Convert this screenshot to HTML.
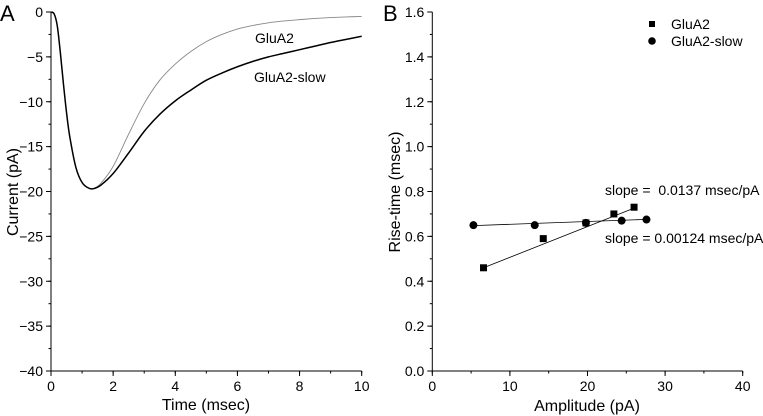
<!DOCTYPE html>
<html><head><meta charset="utf-8"><style>
body{margin:0;background:#fff}
svg{display:block;font-family:"Liberation Sans",Arial,sans-serif}
</style></head><body>
<svg id="c" width="763" height="416" viewBox="0 0 763 416"></svg>
<script>
const tA=[0,0.1,0.2,0.3,0.4,0.5,0.6,0.8,1.0,1.2,1.35,1.6,2.0,2.5,3.0,3.5,4.0,4.5,5.0,5.5,6.0,6.5,7.0,7.5,8.0,8.5,9.0,9.5,10];
const glua2Trace=[0,-0.2,-1.5,-4.5,-8,-11.2,-13.8,-17.3,-19.0,-19.6,-19.7,-19.1,-17.2,-13.6,-10.2,-7.6,-5.8,-4.4,-3.3,-2.5,-1.9,-1.5,-1.2,-1.0,-0.85,-0.72,-0.62,-0.55,-0.5];
const slowTrace=[0,-0.2,-1.5,-4.5,-8,-11.2,-13.8,-17.3,-19.0,-19.6,-19.7,-19.3,-18.0,-15.7,-13.3,-11.4,-9.9,-8.7,-7.6,-6.8,-6.1,-5.5,-5.0,-4.6,-4.2,-3.8,-3.4,-3.05,-2.7];
const xTicksA=[0,2,4,6,8,10];
const yTicksA=[0,-5,-10,-15,-20,-25,-30,-35,-40];
const sqAmp=[6.6,14.3,19.8,23.4,26.0];
const sqRise=[0.46,0.59,0.66,0.70,0.73];
const ciAmp=[5.3,13.2,19.8,24.4,27.6];
const ciRise=[0.65,0.65,0.66,0.67,0.675];
const sqSlope=0.0137, ciSlope=0.00124;
const xTicksB=[0,10,20,30,40];
const yTicksB=[0.0,0.2,0.4,0.6,0.8,1.0,1.2,1.4,1.6];

const svg=document.getElementById('c');
const NS='http://www.w3.org/2000/svg';
function el(tag,attrs,parent){const e=document.createElementNS(NS,tag);for(const k in attrs)e.setAttribute(k,attrs[k]);(parent||svg).appendChild(e);return e;}
function txt(s,attrs,parent){const e=el('text',attrs,parent);e.textContent=s;return e;}

const axA=x=>51+(x/10)*(361.7-51);
const ayA=y=>12+(-y/40)*(371-12);
const axB=x=>432.3+(x/40)*(742.7-432.3);
const ayB=y=>371-(y/1.6)*(371-12);

function axes(g,x0,x1,y0,y1,xt,xs,yt,ys,xMinor,yMinor,fmtY){
  el('line',{x1:x0,y1:y1,x2:x0,y2:y0,stroke:'#000','stroke-width':1},g);
  el('line',{x1:x0,y1:y1,x2:x1,y2:y1,stroke:'#000','stroke-width':1},g);
  xMinor.forEach(v=>{el('line',{x1:xs(v),x2:xs(v),y1:y1,y2:y1+2.5,stroke:'#000'},g);});
  yMinor.forEach(v=>{el('line',{x1:x0,x2:x0-2.5,y1:ys(v),y2:ys(v),stroke:'#000'},g);});
  xt.forEach(v=>{el('line',{x1:xs(v),x2:xs(v),y1:y1,y2:y1+5,stroke:'#000'},g);
    const t=txt(String(v),{x:xs(v),y:y1+20,'text-anchor':'middle','font-size':14},g);
    });
  yt.forEach(v=>{el('line',{x1:x0,x2:x0-5,y1:ys(v),y2:ys(v),stroke:'#000'},g);
    const t=txt(fmtY(v),{x:x0-8,y:ys(v)+5,'text-anchor':'end','font-size':14},g);
    });
}
function smoothPath(xs,ys){
  const p=xs.map((x,i)=>[x,ys[i]]);
  let d='M'+p[0][0]+','+p[0][1];
  for(let i=0;i<p.length-1;i++){
    const p0=p[i-1]||p[i],p1=p[i],p2=p[i+1],p3=p[i+2]||p2;
    const c1=[p1[0]+(p2[0]-p0[0])/6,p1[1]+(p2[1]-p0[1])/6];
    const c2=[p2[0]-(p3[0]-p1[0])/6,p2[1]-(p3[1]-p1[1])/6];
    d+=' C'+c1+' '+c2+' '+p2;
  }
  return d;
}

const gA=el('g',{});

const minA=[];for(let i=0;i<=10;i++)minA.push(i);
const minAy=[];for(let i=0;i<=16;i++)minAy.push(-i*2.5);
axes(gA,51,361.7,12,371,xTicksA,axA,yTicksA,ayA,minA,minAy,v=>v===0?'0':'\u2212'+Math.abs(v));
const p1=el('path',{d:smoothPath(tA.map(axA),glua2Trace.map(ayA)),fill:'none',stroke:'#888','stroke-width':0.9},gA);

const p2=el('path',{d:smoothPath(tA.map(axA),slowTrace.map(ayA)),fill:'none',stroke:'#000','stroke-width':1.5},gA);

let t;
t=txt('GluA2',{x:255,y:43,'font-size':14},gA);
t=txt('GluA2-slow',{x:254,y:82,'font-size':14},gA);
t=txt('A',{x:0,y:21,'font-size':22},gA);
t=txt('Time (msec)',{x:206,y:410,'text-anchor':'middle','font-size':16},gA);
t=txt('Current (pA)',{x:0,y:0,'text-anchor':'middle','font-size':16,transform:'translate(18,192) rotate(-90)'},gA);

const gB=el('g',{});

const minB=[];for(let i=0;i<=8;i++)minB.push(i*5);
const minBy=[];for(let i=0;i<=16;i++)minBy.push(i*0.1);
axes(gB,432.3,742.7,12,371,xTicksB,axB,yTicksB,ayB,minB,minBy,v=>v.toFixed(1));
const l1=el('line',{x1:axB(sqAmp[0]),y1:ayB(sqRise[0]),x2:axB(sqAmp[4]),y2:ayB(sqRise[0]+sqSlope*(sqAmp[4]-sqAmp[0])),stroke:'#000','stroke-width':0.8},gB);

const l2=el('line',{x1:axB(ciAmp[0]),y1:ayB(0.648),x2:axB(ciAmp[4]),y2:ayB(0.648+ciSlope*(ciAmp[4]-ciAmp[0])),stroke:'#000','stroke-width':0.8},gB);

sqAmp.forEach((a,i)=>{const r=el('rect',{x:axB(a)-3.5,y:ayB(sqRise[i])-3.5,width:7,height:7,fill:'#000'},gB);
  });
ciAmp.forEach((a,i)=>{const c=el('circle',{cx:axB(a),cy:ayB(ciRise[i]),r:4,fill:'#000'},gB);
  });
const lg=el('g',{},gB);
el('rect',{x:649,y:21,width:6,height:6,fill:'#000'},lg);
t=txt('GluA2',{x:671,y:29,'font-size':14},lg);
el('circle',{cx:652,cy:41,r:3.8,fill:'#000'},lg);
t=txt('GluA2-slow',{x:671,y:46,'font-size':14},lg);
const s1=txt('slope =  0.0137 msec/pA',{x:605,y:195,'font-size':14},gB);
s1.style.whiteSpace='pre';
t=txt('slope = 0.00124 msec/pA',{x:605,y:243,'font-size':14},gB);
t=txt('B',{x:383,y:21,'font-size':22},gB);
t=txt('Amplitude (pA)',{x:587,y:411,'text-anchor':'middle','font-size':16},gB);
t=txt('Rise-time (msec)',{x:0,y:0,'text-anchor':'middle','font-size':16,transform:'translate(400,192) rotate(-90)'},gB);
</script>
</body></html>
